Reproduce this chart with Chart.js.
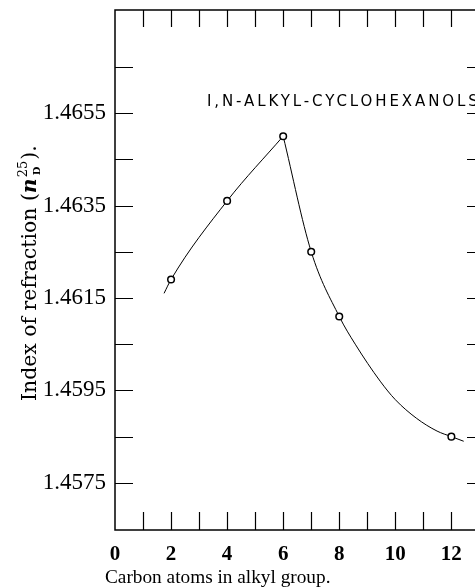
<!DOCTYPE html>
<html>
<head>
<meta charset="utf-8">
<script src="https://cdn.jsdelivr.net/npm/chart.js@4/dist/chart.umd.min.js"></script>
<style>
  html, body { margin: 0; padding: 0; background: #fff; overflow: hidden; }
  #wrap { width: 500px; height: 588px; }
</style>
</head>
<body>
<div id="wrap"><canvas id="c" width="500" height="588"></canvas></div>
<script>
// ---- data ----
const carbonAtoms = [2, 4, 6, 7, 8, 12];
const refractiveIndex = [1.4619, 1.4636, 1.4650, 1.4625, 1.4611, 1.4585];

// hand-drawn smooth curve (left branch and right branch)
const curveLeftX = [1.75, 2, 4, 6];
const curveLeftY = [1.4616, 1.4619, 1.4636, 1.4650];
const curveRightX = [6, 7, 8, 8.57, 9.46, 10.0, 10.75, 11.49, 12, 12.44];
const curveRightY = [1.4650, 1.4625, 1.4611, 1.4605, 1.4597, 1.4593, 1.4589, 1.45862, 1.4585, 1.4584];

// tick labels and tick marks
const xTickLabels = [0, 2, 4, 6, 8, 10, 12];
const xTickMarks = [1, 2, 3, 4, 5, 6, 7, 8, 9, 10, 11, 12, 13];
const yTickLabels = [1.4575, 1.4595, 1.4615, 1.4635, 1.4655];
const yTickMarks = [1.4575, 1.4585, 1.4595, 1.4605, 1.4615, 1.4625, 1.4635, 1.4645, 1.4655, 1.4665];

const seriesLabel = "I,N-ALKYL-CYCLOHEXANOLS";
const xTitle = "Carbon atoms in alkyl group.";
const yTitleMain = "Index of refraction (";
const yTitleSym = "n";
const yTitleSup = "25";
const yTitleSub = "D";
const yTitleEnd = ").";

const toXY = (xs, ys) => xs.map((v, i) => ({ x: v, y: ys[i] }));

const serif = "'Liberation Serif', 'Times New Roman', serif";
const wideSerif = "'DejaVu Serif', serif";

const framePlugin = {
  id: 'frame',
  afterDraw(chart) {
    const { ctx, chartArea: a, scales: { x, y } } = chart;
    ctx.save();
    ctx.strokeStyle = '#000';
    ctx.lineWidth = 1.5;
    ctx.strokeRect(a.left, a.top, a.right - a.left, a.bottom - a.top);
    ctx.lineWidth = 1.2;
    ctx.beginPath();
    xTickMarks.forEach(v => {
      const px = Math.round(x.getPixelForValue(v)) + 0.5;
      ctx.moveTo(px, a.bottom); ctx.lineTo(px, a.bottom - 18);
      ctx.moveTo(px, a.top); ctx.lineTo(px, a.top + 17);
    });
    yTickMarks.forEach(v => {
      const py = Math.round(y.getPixelForValue(v)) + 0.5;
      ctx.moveTo(a.left, py); ctx.lineTo(a.left + 18, py);
      ctx.moveTo(a.right, py); ctx.lineTo(a.right - 18, py);
    });
    ctx.stroke();

    // series label inside the plot
    ctx.fillStyle = '#000';
    ctx.font = "15px 'DejaVu Sans', sans-serif";
    ctx.letterSpacing = '2.9px';
    ctx.textBaseline = 'middle';
    ctx.textAlign = 'left';
    ctx.fillText(seriesLabel, 207, 102);
    ctx.letterSpacing = '0px';

    // x axis title
    ctx.font = "19.3px " + serif;
    ctx.textBaseline = 'alphabetic';
    ctx.fillText(xTitle, 105, 583);

    // y axis title (rotated)
    ctx.save();
    ctx.translate(36, 401);
    ctx.rotate(-Math.PI / 2);
    ctx.font = "20.4px " + wideSerif;
    ctx.fillText(yTitleMain, 0, 0);
    let w = ctx.measureText(yTitleMain).width;
    ctx.font = "italic bold 20.4px " + wideSerif;
    ctx.fillText(yTitleSym, w, 0);
    w += ctx.measureText(yTitleSym).width + 1;
    ctx.font = "13px " + wideSerif;
    ctx.fillText(yTitleSup, w, -9);
    const ws = ctx.measureText(yTitleSup).width;
    ctx.font = "bold 10px " + wideSerif;
    ctx.fillText(yTitleSub, w + 2, 4);
    w += ws + 1;
    ctx.font = "20.4px " + wideSerif;
    ctx.fillText(yTitleEnd, w, 0);
    ctx.restore();

    ctx.restore();
  }
};

new Chart(document.getElementById('c'), {
  type: 'scatter',
  data: {
    datasets: [
      {
        label: 'measured',
        data: toXY(carbonAtoms, refractiveIndex),
        showLine: false,
        pointStyle: 'circle',
        pointRadius: 3.3,
        pointBorderWidth: 1.5,
        pointBackgroundColor: '#fff',
        pointBorderColor: '#000'
      },
      {
        label: 'curveLeft',
        data: toXY(curveLeftX, curveLeftY),
        showLine: true,
        pointRadius: 0,
        borderColor: '#000',
        borderWidth: 1,
        cubicInterpolationMode: 'monotone'
      },
      {
        label: 'curveRight',
        data: toXY(curveRightX, curveRightY),
        showLine: true,
        pointRadius: 0,
        borderColor: '#000',
        borderWidth: 1,
        cubicInterpolationMode: 'monotone'
      }
    ]
  },
  options: {
    responsive: false,
    animation: false,
    devicePixelRatio: 1,
    layout: { padding: { top: 10, right: 15, left: 0, bottom: 0 } },
    plugins: { legend: { display: false }, tooltip: { enabled: false }, title: { display: false } },
    scales: {
      x: {
        type: 'linear',
        min: 0,
        max: 13.2,
        grid: { display: false, drawTicks: false },
        border: { display: false },
        afterBuildTicks: s => { s.ticks = xTickLabels.map(v => ({ value: v })); },
        afterFit: s => { s.height = 58; s.paddingLeft = 0; s.paddingRight = 0; },
        ticks: {
          color: '#000',
          padding: 12,
          maxRotation: 0,
          autoSkip: false,
          font: { family: serif, size: 21, weight: 'bold' },
          callback: v => String(v)
        }
      },
      y: {
        type: 'linear',
        min: 1.45648,
        max: 1.46773,
        grid: { display: false, drawTicks: false },
        border: { display: false },
        afterBuildTicks: s => { s.ticks = yTickLabels.map(v => ({ value: v })); },
        afterFit: s => { s.width = 115; s.paddingTop = 0; s.paddingBottom = 0; },
        ticks: {
          color: '#000',
          padding: 9,
          autoSkip: false,
          font: { family: serif, size: 23 },
          callback: v => Number(v).toFixed(4)
        }
      }
    }
  },
  plugins: [framePlugin]
});
</script>
</body>
</html>
